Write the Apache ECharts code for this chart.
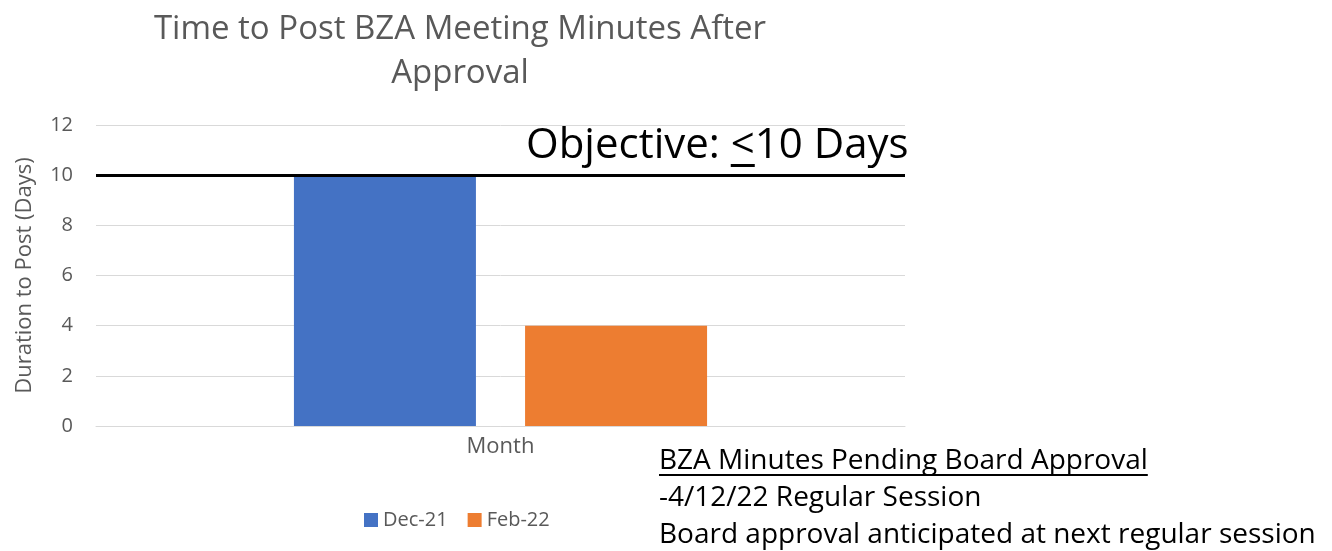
<!DOCTYPE html>
<html>
<head>
<meta charset="utf-8">
<script src="https://cdn.jsdelivr.net/npm/echarts@6/dist/echarts.min.js"></script>
<style>
  html, body { margin: 0; padding: 0; background: #fff; }
  #chart { width: 1332px; height: 551px; }
</style>
</head>
<body>
<div id="chart"></div>
<script>
// data
var categories = ['Month'];
var seriesNames = ['Dec-21', 'Feb-22'];
var dec21 = [10];
var feb22 = [4];
var objective = 10;
var yTicks = { min: 0, max: 12, interval: 2 };
var noteLines = [
  'BZA Minutes Pending Board Approval',
  '-4/12/22 Regular Session',
  'Board approval anticipated at next regular session'
];

var FONT = '"Open Sans", sans-serif';
var GRAY = '#595959';

// measure text so the underlines sit under the right glyphs
function textWidth(str, size) {
  var c = document.createElement('canvas').getContext('2d');
  c.font = size + 'px ' + FONT;
  return c.measureText(str).width;
}

var chart = echarts.init(document.getElementById('chart'));

var objSize = 42;
var objLeft = 526;
var objPrefix = 'Objective: ';
var ltX = objLeft + textWidth(objPrefix, objSize);
var ltW = textWidth('<', objSize);

var noteSize = 28;
var noteLeft = 659;
var noteW = textWidth(noteLines[0], noteSize);

var option = {
  animation: false,
  title: {
    text: 'Time to Post BZA Meeting Minutes After\nApproval',
    left: 455,
    top: 3,
    textAlign: 'center',
    textStyle: { fontFamily: FONT, fontSize: 33, fontWeight: 'normal', color: GRAY, lineHeight: 44 }
  },
  legend: {
    data: seriesNames,
    left: 359,
    top: 505,
    icon: 'rect',
    itemWidth: 14,
    itemHeight: 14,
    itemGap: 20,
    textStyle: { fontFamily: FONT, fontSize: 20, color: GRAY }
  },
  grid: { left: 96, right: 427, top: 125, bottom: 125 },
  xAxis: {
    type: 'category',
    data: categories,
    axisLine: { lineStyle: { color: '#d9d9d9', width: 1 } },
    axisTick: { show: false },
    axisLabel: { fontFamily: FONT, fontSize: 22, color: GRAY, margin: 10 }
  },
  yAxis: {
    type: 'value',
    min: yTicks.min,
    max: yTicks.max,
    interval: yTicks.interval,
    name: 'Duration to Post (Days)',
    nameLocation: 'middle',
    nameGap: 60,
    nameTextStyle: { fontFamily: FONT, fontSize: 22, color: GRAY },
    axisLine: { show: false },
    axisTick: { show: false },
    axisLabel: { fontFamily: FONT, fontSize: 20, color: GRAY, margin: 23 },
    splitLine: { lineStyle: { color: '#d9d9d9', width: 1 } }
  },
  series: [
    {
      name: seriesNames[0],
      type: 'bar',
      data: dec21,
      barWidth: 182,
      barGap: '27%',
      itemStyle: { color: '#4472c4' },
      markLine: {
        symbol: 'none',
        silent: true,
        label: { show: false },
        lineStyle: { color: '#000', width: 3, type: 'solid' },
        data: [{ yAxis: objective }]
      },
      z: 2
    },
    {
      name: seriesNames[1],
      type: 'bar',
      data: feb22,
      barWidth: 182,
      itemStyle: { color: '#ed7d31' }
    }
  ],
  graphic: [
    {
      type: 'text',
      x: objLeft,
      y: 146,
      style: { text: objPrefix + '<10 Days', fontFamily: FONT, fontSize: objSize, fill: '#000', verticalAlign: 'middle' }
    },
    {
      type: 'rect',
      shape: { x: ltX, y: 164, width: ltW, height: 3 },
      style: { fill: '#000' }
    },
    {
      type: 'text',
      x: noteLeft,
      y: 461,
      style: { text: noteLines[0], fontFamily: FONT, fontSize: noteSize, fill: '#000', verticalAlign: 'middle' }
    },
    {
      type: 'rect',
      shape: { x: noteLeft, y: 474, width: noteW, height: 2 },
      style: { fill: '#000' }
    },
    {
      type: 'text',
      x: noteLeft,
      y: 498,
      style: { text: noteLines[1], fontFamily: FONT, fontSize: noteSize, fill: '#000', verticalAlign: 'middle' }
    },
    {
      type: 'text',
      x: noteLeft,
      y: 535,
      style: { text: noteLines[2], fontFamily: FONT, fontSize: noteSize, fill: '#000', verticalAlign: 'middle' }
    }
  ]
};

chart.setOption(option);
</script>
</body>
</html>
